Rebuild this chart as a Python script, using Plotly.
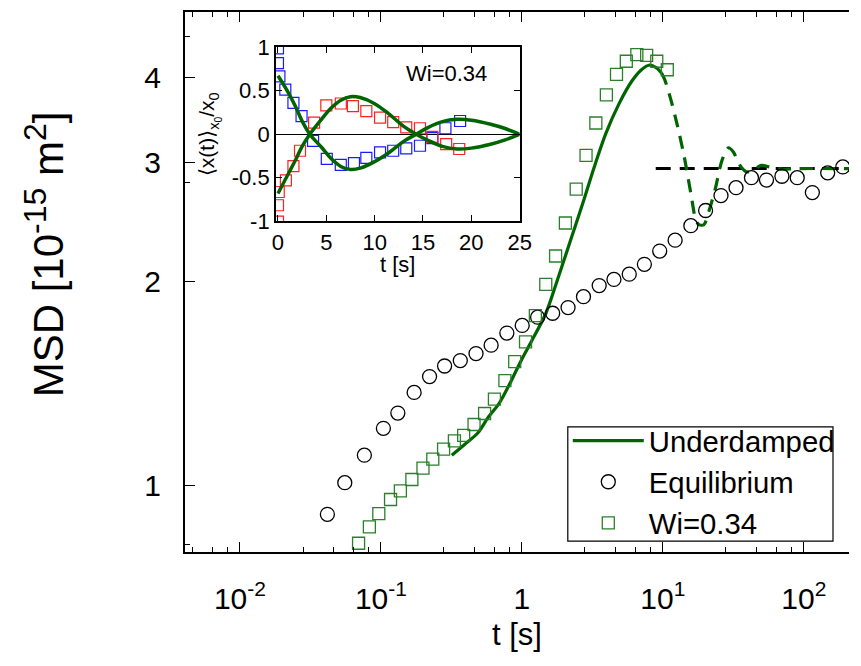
import plotly.graph_objects as go

# ---------------- main panel data ----------------
eq_t = [0.0417, 0.0554, 0.0763, 0.1041, 0.1318, 0.1720, 0.2213, 0.2829, 0.3657, 0.4727,
        0.6050, 0.7821, 1.005, 1.293, 1.653, 2.126, 2.735, 3.535, 4.498, 5.776,
        7.396, 9.500, 12.22, 15.80, 20.10, 25.85, 33.05, 42.52, 54.36, 69.93,
        89.80, 115.0, 147.7, 189.1]
eq_msd = [0.908, 1.011, 1.110, 1.216, 1.281, 1.374, 1.450, 1.503, 1.531, 1.568,
          1.613, 1.681, 1.725, 1.774, 1.798, 1.833, 1.902, 1.975, 2.017, 2.053,
          2.123, 2.221, 2.305, 2.421, 2.549, 2.682, 2.755, 2.850, 2.827, 2.864,
          2.850, 2.709, 2.897, 2.956]

wi_t = [0.0694, 0.0828, 0.0966, 0.1170, 0.1374, 0.1658, 0.1987, 0.2333, 0.2783, 0.3321,
        0.3862, 0.4577, 0.5436, 0.6383, 0.7576, 0.8894, 1.061, 1.246, 1.477, 1.734,
        2.035, 2.428, 2.852, 3.347, 3.975, 4.690, 5.505, 6.537, 7.674, 9.054, 10.75]
wi_msd = [0.823, 0.870, 0.910, 0.955, 0.983, 1.022, 1.062, 1.095, 1.133, 1.165,
          1.187, 1.232, 1.279, 1.343, 1.430, 1.525, 1.631, 1.784, 1.983, 2.184,
          2.443, 2.742, 3.074, 3.432, 3.775, 4.048, 4.233, 4.330, 4.319, 4.233, 4.112]

ud_t = [0.3184, 0.3943, 0.4882, 0.5731, 0.6914, 0.8343, 1.005, 1.180, 1.481, 1.762,
        2.185, 2.704, 3.262, 3.930, 4.873, 6.032, 7.084, 7.962, 9.010, 9.761]
ud_msd = [1.110, 1.152, 1.198, 1.260, 1.325, 1.425, 1.542, 1.640, 1.798, 1.996,
          2.284, 2.613, 2.956, 3.307, 3.659, 3.958, 4.116, 4.176, 4.140, 4.070]

ud_dash_t = [9.761, 10.29, 11.46, 12.76, 14.19, 15.80, 17.12, 18.05, 19.55, 21.19,
             23.59, 26.28, 29.21, 31.65, 35.24, 39.24, 43.63, 49.93, 57.03, 70.61,
             87.54, 209.0]
ud_dash_msd = [4.070, 3.981, 3.700, 3.383, 3.058, 2.702, 2.470, 2.429, 2.429, 2.541,
               2.748, 3.023, 3.155, 3.109, 2.972, 2.907, 2.923, 2.972, 2.956, 2.933,
               2.939, 2.939]

plateau_t = [8.9, 260.0]
plateau_msd = [2.939, 2.939]

x_tickvals = [0.01, 0.1, 1, 10, 100]
x_ticktext = ["10<sup>-2</sup>", "10<sup>-1</sup>", "1", "10<sup>1</sup>", "10<sup>2</sup>"]
x_minor = [0.0046, 0.0064, 0.0082, 0.028, 0.046, 0.064, 0.082, 0.28, 0.46, 0.64, 0.82,
           2.8, 4.6, 6.4, 8.2, 28, 46, 64, 82]
y_tickvals = [1, 2, 3, 4]
y_ticktext = ["1", "2", "3", "4"]
y_minor = [0.82, 2.8, 4.6]

# ---------------- inset data ----------------
blue_t = [0.0, 0.0, 0.15, 0.76, 1.60, 2.44, 3.63, 5.05, 6.50, 7.86, 9.14, 10.56, 11.92,
          13.27, 14.69, 15.97, 17.32, 18.84]
blue_v = [0.985, 0.815, 0.663, 0.511, 0.360, 0.208, -0.076, -0.284, -0.352, -0.333,
          -0.273, -0.208, -0.190, -0.163, -0.133, -0.045, 0.068, 0.151]
red_t = [0.0, 0.0, 0.08, 0.82, 1.60, 2.28, 3.74, 5.0, 6.5, 7.75, 9.14, 10.56, 11.92,
         13.27, 14.69, 15.97, 17.40, 18.75]
red_v = [-1.003, -0.815, -0.663, -0.531, -0.367, -0.190, 0.133, 0.330, 0.352, 0.322,
         0.265, 0.190, 0.138, 0.077, 0.068, -0.031, -0.114, -0.170]
curve_t = [0, 0.95, 1.8, 2.5, 3.3, 4.5, 5.5, 6.5, 7.5, 8.5, 10, 11.5, 13, 14.3, 15.5,
           17, 18.5, 20, 22, 23.5, 25]
curve_a = [0.67, 0.5, 0.32, 0.15, 0, -0.15, -0.28, -0.37, -0.405, -0.39, -0.315, -0.21,
           -0.083, 0, 0.076, 0.144, 0.17, 0.16, 0.114, 0.065, 0]
curve_b = [-0.68, -0.48, -0.30, -0.14, 0, 0.17, 0.30, 0.39, 0.43, 0.42, 0.35, 0.23,
           0.09, 0, -0.07, -0.14, -0.17, -0.16, -0.115, -0.065, 0]
inset_xticks = [0, 5, 10, 15, 20, 25]
inset_yticks = [-1, -0.5, 0, 0.5, 1]
inset_yticktext = ["-1", "-0.5", "0", "0.5", "1"]

GREEN = "#006400"
SQ_GREEN = "#2b7f2b"
FONT = "Liberation Sans, Arial, Helvetica, sans-serif"

fig = go.Figure()

# main panel
fig.add_trace(go.Scatter(x=plateau_t, y=plateau_msd, mode="lines",
                         line=dict(color="black", width=3, dash="15px,9px"),
                         showlegend=False, hoverinfo="skip"))
fig.add_trace(go.Scatter(x=ud_dash_t, y=ud_dash_msd, mode="lines",
                         line=dict(color=GREEN, width=3.2, dash="13px,9px", shape="spline",
                                   smoothing=0.8),
                         showlegend=False))
fig.add_trace(go.Scatter(x=ud_t, y=ud_msd, mode="lines", name="Underdamped",
                         line=dict(color=GREEN, width=3.2, shape="spline", smoothing=0.8)))
fig.add_trace(go.Scatter(x=eq_t, y=eq_msd, mode="markers", name="Equilibrium",
                         marker=dict(symbol="circle-open", size=14, color="black",
                                     line=dict(width=1.3, color="black"))))
fig.add_trace(go.Scatter(x=wi_t, y=wi_msd, mode="markers", name="Wi=0.34",
                         marker=dict(symbol="square-open", size=12, color=SQ_GREEN,
                                     line=dict(width=1.3, color=SQ_GREEN))))

# inset
fig.add_trace(go.Scatter(x=blue_t, y=blue_v, mode="markers", xaxis="x2", yaxis="y2",
                         marker=dict(symbol="square-open", size=11, color="#1a1aff",
                                     line=dict(width=1.2)), showlegend=False))
fig.add_trace(go.Scatter(x=red_t, y=red_v, mode="markers", xaxis="x2", yaxis="y2",
                         marker=dict(symbol="square-open", size=11, color="#ff2020",
                                     line=dict(width=1.2)), showlegend=False))
fig.add_trace(go.Scatter(x=curve_t, y=curve_a, mode="lines", xaxis="x2", yaxis="y2",
                         line=dict(color=GREEN, width=3.5, shape="spline", smoothing=1.0),
                         showlegend=False))
fig.add_trace(go.Scatter(x=curve_t, y=curve_b, mode="lines", xaxis="x2", yaxis="y2",
                         line=dict(color=GREEN, width=3.5, shape="spline", smoothing=1.0),
                         showlegend=False))

fig.add_annotation(x=17.4, y=0.70, xref="x2", yref="y2", text="Wi=0.34", showarrow=False,
                   font=dict(size=22, color="black", family=FONT))
# inset x-axis title
fig.add_annotation(x=0.5, y=0.532, xref="x2 domain", yref="paper", text="t [s]",
                   showarrow=False, yanchor="middle",
                   font=dict(size=22, color="black", family=FONT))

# main y-axis title
SUP = '<sup><span style="font-size:32px">{}</span></sup>'
fig.add_annotation(x=-0.2115, y=0.5505, xref="paper", yref="paper", textangle=-90,
                   text="MSD [10" + SUP.format("-15") + " m" + SUP.format("2") + "]",
                   showarrow=False, xanchor="center", yanchor="middle",
                   font=dict(size=42, color="black", family=FONT))

# legend frame (box drawn as a shape so its size matches the reference)
fig.add_shape(type="rect", xref="paper", yref="paper",
              x0=0.5765, x1=0.9759, y0=0.0202, y1=0.2317,
              line=dict(color="black", width=1.2), fillcolor="white", layer="below")

fig.update_layout(
    width=861, height=666,
    margin=dict(l=185, r=0, t=7, b=114),
    paper_bgcolor="white", plot_bgcolor="white",
    font=dict(family=FONT, color="black", size=30),
    legend=dict(x=0.5765, y=0.2535, xanchor="left", yanchor="top",
                borderwidth=0, bgcolor="rgba(0,0,0,0)",
                font=dict(size=29.3), itemwidth=71, tracegroupgap=0),
    xaxis=dict(type="log", range=[-2.390, 2.3206], showline=True, linewidth=2,
               linecolor="black", mirror="ticks", ticks="inside", ticklen=10,
               tickwidth=1.2, tickcolor="black", tickvals=x_tickvals, ticktext=x_ticktext,
               tickfont=dict(size=30), showgrid=False, zeroline=False,
               ticklabelstandoff=19,
               minor=dict(tickvals=x_minor, ticks="inside", ticklen=5, tickwidth=1.2,
                          tickcolor="black", showgrid=False),
               title=dict(text="t [s]", font=dict(size=31), standoff=9)),
    yaxis=dict(type="log", range=[-0.0975, 0.6993], showline=True, linewidth=2,
               linecolor="black", mirror=False, ticks="inside", ticklen=10,
               tickwidth=1.2, tickcolor="black", tickvals=y_tickvals, ticktext=y_ticktext,
               tickfont=dict(size=30), showgrid=False, zeroline=False,
               ticklabelstandoff=16,
               minor=dict(tickvals=y_minor, ticks="inside", ticklen=5, tickwidth=1.2,
                          tickcolor="black", showgrid=False)),
    xaxis2=dict(domain=[0.1371, 0.504], anchor="y2", range=[-0.2, 25], showline=True,
                linewidth=2, linecolor="black", mirror="ticks", ticks="inside", ticklen=6,
                tickwidth=1.2, tickcolor="black", tickvals=inset_xticks,
                tickfont=dict(size=22), showgrid=False, zeroline=False),
    yaxis2=dict(domain=[0.6123, 0.9352], anchor="x2", range=[-1, 1], showline=True,
                linewidth=2, linecolor="black", mirror="ticks", ticks="inside", ticklen=6,
                tickwidth=1.2, tickcolor="black", tickvals=inset_yticks,
                ticktext=inset_yticktext, tickfont=dict(size=22), showgrid=False,
                zeroline=True, zerolinecolor="black", zerolinewidth=1.2,
                title=dict(text="\u27e8x(t)\u27e9<sub>x<sub>0</sub></sub>/x<sub>0</sub>",
                           font=dict(size=21), standoff=11)),
)

fig.write_html("out.html")
